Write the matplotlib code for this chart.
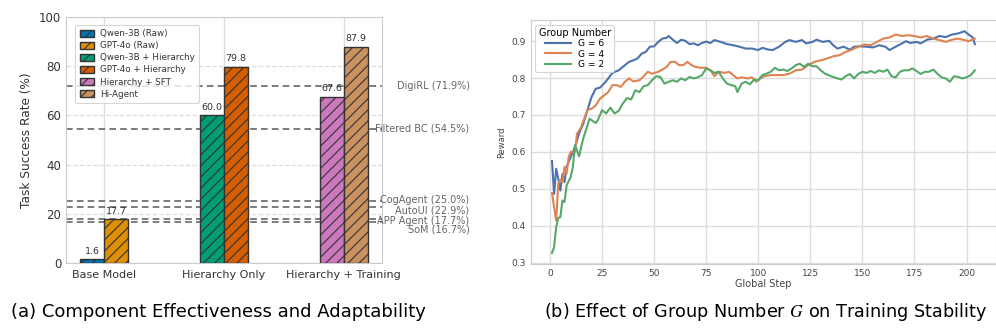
import numpy as np
import matplotlib
matplotlib.use("Agg")
import matplotlib.pyplot as plt

# ---- (a) bar chart data
categories = ["Base Model", "Hierarchy Only", "Hierarchy + Training"]
bar_names = ["Qwen-3B (Raw)", "GPT-4o (Raw)", "Qwen-3B + Hierarchy",
             "GPT-4o + Hierarchy", "Hierarchy + SFT", "Hi-Agent"]
bar_values = [1.6, 17.7, 60.0, 79.8, 67.6, 87.9]
bar_colors = ["#0173b2", "#de8f05", "#029e73", "#d55e00", "#cc78bc", "#ca9161"]

baseline_names = ["DigiRL", "Filtered BC", "CogAgent", "AutoUI", "APP Agent", "SoM"]
baseline_values = [71.9, 54.5, 25.0, 22.9, 17.7, 16.7]

# ---- (b) reward curves
g6_steps = [1, 2, 3, 4, 5, 6, 7, 8, 10, 12, 14, 16, 18, 20, 22, 24, 26, 28, 30, 33,
            36, 38, 40, 42, 44, 46, 48, 50, 52, 54, 56, 57, 59, 61, 63, 65, 67, 69, 71, 73,
            75, 77, 79, 82, 85, 88, 91, 94, 97, 100, 102, 105, 107, 110, 113, 115, 118, 121, 123, 126,
            128, 131, 134, 136, 138, 141, 144, 146, 149, 152, 155, 158, 161, 163, 166, 169, 171, 173, 176, 178,
            181, 184, 187, 190, 193, 196, 199, 201, 203, 204]
g6_reward = [0.575, 0.486, 0.554, 0.527, 0.495, 0.540, 0.518, 0.560, 0.586, 0.613, 0.650, 0.676, 0.713, 0.749, 0.771, 0.774, 0.785, 0.799, 0.814, 0.821,
             0.835, 0.844, 0.848, 0.853, 0.866, 0.871, 0.885, 0.886, 0.898, 0.907, 0.909, 0.914, 0.904, 0.895, 0.904, 0.901, 0.892, 0.894, 0.889, 0.895,
             0.899, 0.895, 0.903, 0.898, 0.892, 0.889, 0.885, 0.880, 0.880, 0.876, 0.882, 0.877, 0.876, 0.885, 0.898, 0.903, 0.898, 0.903, 0.894, 0.898,
             0.904, 0.898, 0.901, 0.889, 0.880, 0.885, 0.877, 0.885, 0.886, 0.885, 0.883, 0.889, 0.885, 0.876, 0.885, 0.894, 0.900, 0.895, 0.898, 0.894,
             0.904, 0.907, 0.914, 0.911, 0.918, 0.921, 0.927, 0.918, 0.910, 0.892]

g4_steps = [1, 2, 3, 4, 5, 6, 7, 8, 9, 10, 12, 13, 15, 17, 18, 20, 22, 24, 26, 28,
            30, 32, 34, 36, 38, 40, 43, 45, 47, 49, 52, 54, 56, 58, 60, 62, 64, 66, 68, 70,
            72, 75, 77, 79, 81, 84, 86, 88, 90, 92, 95, 97, 99, 101, 103, 106, 109, 112, 115, 118,
            121, 124, 127, 130, 133, 136, 139, 142, 145, 148, 151, 154, 157, 160, 163, 166, 169, 172, 175, 178,
            181, 184, 187, 190, 193, 196, 199, 201, 204]
g4_reward = [0.488, 0.450, 0.414, 0.514, 0.523, 0.518, 0.559, 0.541, 0.586, 0.600, 0.600, 0.649, 0.667, 0.699, 0.714, 0.717, 0.726, 0.744, 0.753, 0.762,
             0.781, 0.781, 0.776, 0.790, 0.799, 0.791, 0.794, 0.805, 0.817, 0.812, 0.817, 0.823, 0.830, 0.844, 0.844, 0.835, 0.835, 0.844, 0.835, 0.830,
             0.828, 0.828, 0.821, 0.805, 0.817, 0.814, 0.817, 0.808, 0.799, 0.802, 0.799, 0.802, 0.790, 0.799, 0.805, 0.808, 0.808, 0.808, 0.812, 0.821,
             0.823, 0.835, 0.844, 0.848, 0.853, 0.859, 0.862, 0.871, 0.877, 0.885, 0.891, 0.889, 0.898, 0.907, 0.910, 0.918, 0.914, 0.916, 0.914, 0.910,
             0.914, 0.907, 0.903, 0.898, 0.904, 0.907, 0.903, 0.900, 0.907]

g2_steps = [1, 2, 3, 4, 5, 6, 7, 8, 10, 11, 12, 13, 14, 15, 16, 18, 19, 20, 22, 23,
            25, 27, 29, 31, 33, 35, 37, 39, 41, 43, 45, 47, 49, 51, 53, 55, 57, 59, 61, 63,
            65, 67, 69, 71, 73, 75, 77, 79, 81, 83, 85, 87, 89, 90, 92, 94, 96, 98, 100, 102,
            104, 106, 108, 110, 112, 114, 116, 118, 120, 122, 124, 126, 128, 130, 132, 135, 138, 140, 142, 144,
            146, 148, 150, 152, 154, 156, 158, 160, 162, 164, 166, 168, 170, 172, 174, 176, 178, 180, 182, 184,
            186, 188, 190, 192, 194, 196, 198, 200, 202, 204]
g2_reward = [0.326, 0.342, 0.396, 0.421, 0.423, 0.468, 0.464, 0.509, 0.532, 0.559, 0.618, 0.604, 0.588, 0.613, 0.636, 0.672, 0.690, 0.686, 0.678, 0.686,
             0.713, 0.704, 0.720, 0.704, 0.711, 0.731, 0.746, 0.742, 0.767, 0.762, 0.778, 0.781, 0.794, 0.805, 0.803, 0.785, 0.790, 0.794, 0.790, 0.799,
             0.794, 0.803, 0.799, 0.802, 0.808, 0.826, 0.821, 0.814, 0.817, 0.799, 0.785, 0.781, 0.778, 0.762, 0.785, 0.790, 0.783, 0.796, 0.794, 0.808,
             0.812, 0.817, 0.828, 0.821, 0.823, 0.819, 0.826, 0.835, 0.839, 0.830, 0.839, 0.832, 0.832, 0.821, 0.812, 0.805, 0.799, 0.796, 0.805, 0.811,
             0.799, 0.811, 0.817, 0.814, 0.819, 0.814, 0.821, 0.817, 0.823, 0.805, 0.802, 0.817, 0.821, 0.821, 0.826, 0.819, 0.811, 0.817, 0.817, 0.823,
             0.812, 0.802, 0.799, 0.790, 0.805, 0.803, 0.799, 0.802, 0.808, 0.821]

curve_labels = ["G = 6", "G = 4", "G = 2"]
curve_colors = ["#4c72b0", "#dd8452", "#55a868"]

plt.rcParams['font.family'] = ['DejaVu Sans']
plt.rcParams['mathtext.fontset'] = 'stix'
plt.rcParams['hatch.linewidth'] = 0.8
grid_c = "#dddddd"
spine_c = "#cccccc"

fig = plt.figure(figsize=(9.96, 3.30), dpi=100)

# ---------------- (a)
ax1 = fig.add_axes([0.0663, 0.203, 0.317, 0.746])
x = np.arange(len(categories))
w = 0.2
for i, (name, val, col) in enumerate(zip(bar_names, bar_values, bar_colors)):
    pos = x[i // 2] + (-w / 2 if i % 2 == 0 else w / 2)
    ax1.bar(pos, val, w, color=col, edgecolor="#333333", linewidth=1.0,
            hatch="///", label=name, zorder=3)
    ax1.text(pos, val + 1.3, f"{val:.1f}", ha="center", va="bottom",
             fontsize=6.8, color="#333333", zorder=4)

label_y = [71.9, 54.5, 25.6, 21.2, 17.1, 13.8]
for name, val, ly in zip(baseline_names, baseline_values, label_y):
    ax1.axhline(val, color="#666666", linestyle=(0, (4, 2.5)), linewidth=1.2, zorder=2)
    ax1.text(1.278, ly, f"{name} ({val}%)", transform=ax1.get_yaxis_transform(),
             ha="right", va="center", fontsize=7, color="#666666")

ax1.set_xlim(-0.317, 2.317)
ax1.set_ylim(0, 100)
ax1.set_xticks(x)
ax1.set_xticklabels(categories, fontsize=8)
ax1.set_yticks(np.arange(0, 101, 20))
ax1.tick_params(axis="y", labelsize=8.5, length=0, colors="#333333")
ax1.tick_params(axis="x", length=0, colors="#333333", pad=5)
ax1.set_ylabel("Task Success Rate (%)", fontsize=8.7, color="#333333")
ax1.xaxis.grid(True, color=grid_c, linewidth=1.0, zorder=0)
ax1.yaxis.grid(True, color=grid_c, linestyle="--", linewidth=0.9, zorder=0)
ax1.set_axisbelow(True)
for s in ax1.spines.values():
    s.set_color(spine_c)
leg = ax1.legend(loc="upper left", fontsize=6.3, frameon=True, handlelength=1.7,
                 handleheight=0.8, labelspacing=0.35, borderpad=0.5,
                 handletextpad=0.6, bbox_to_anchor=(0.015, 0.985))
leg.get_frame().set_edgecolor("#cccccc")
leg.get_frame().set_linewidth(0.8)
for t in leg.get_texts():
    t.set_color("#333333")

# ---------------- (b)
ax2 = fig.add_axes([0.533, 0.2, 0.467, 0.739])
for st, rw, lab, col in zip([g6_steps, g4_steps, g2_steps],
                            [g6_reward, g4_reward, g2_reward],
                            curve_labels, curve_colors):
    ax2.plot(st, rw, color=col, linewidth=1.5, label=lab)
ax2.set_xticks(np.arange(0, 201, 25))
ax2.set_yticks(np.arange(0.3, 0.91, 0.1))
ax2.tick_params(labelsize=6.5, length=0, colors="#444444")
ax2.set_xlabel("Global Step", fontsize=7, color="#444444", labelpad=1)
ax2.set_ylabel("Reward", fontsize=6, color="#444444", labelpad=4)
ax2.grid(True, color=grid_c, linewidth=1.0)
ax2.set_axisbelow(True)
for s in ax2.spines.values():
    s.set_color(spine_c)
leg2 = ax2.legend(title="Group Number", loc="upper left", fontsize=6.6,
                  title_fontsize=7.0, handlelength=2.8, labelspacing=0.15,
                  borderpad=0.35, frameon=True)
leg2.get_frame().set_edgecolor("#cccccc")
leg2.get_frame().set_linewidth(0.8)

# captions
fig.text(0.219, 0.055, "(a) Component Effectiveness and Adaptability",
         ha="center", va="center", fontsize=13)
fig.text(0.769, 0.055, "(b) Effect of Group Number $G$ on Training Stability",
         ha="center", va="center", fontsize=12.7)

fig.savefig("out.png", dpi=100, facecolor="white")
